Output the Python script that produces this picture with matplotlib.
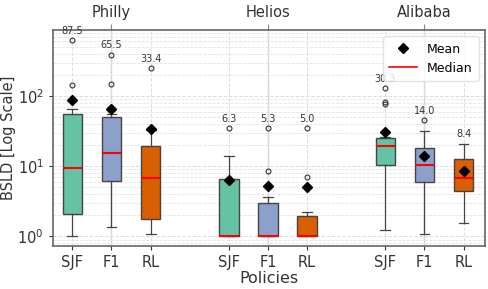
import numpy as np
import matplotlib.pyplot as plt
from matplotlib.lines import Line2D

# Policies per trace, and the trace names shown on the top axis
policies = ["SJF", "F1", "RL"]
traces = ["Philly", "Helios", "Alibaba"]

# box statistics, in order Philly(SJF,F1,RL), Helios(...), Alibaba(...)
q1 = [2.1, 6.1, 1.77, 1.0, 1.0, 1.0, 10.4, 6.0, 4.5]
medians = [9.4, 15.5, 6.7, 1.0, 1.0, 1.0, 19.7, 10.3, 6.75]
q3 = [56, 51, 19.4, 6.5, 3.0, 1.93, 25, 18, 12.7]
whis_lo = [1.0, 1.35, 1.07, 1.0, 1.0, 1.0, 1.23, 1.08, 1.54]
whis_hi = [65, 55, 33, 13.8, 3.6, 2.25, 26, 31.6, 21]
means = [87.5, 65.5, 33.4, 6.3, 5.3, 5.0, 30.3, 14.0, 8.4]
fliers = [[145, 630], [65, 150, 390], [250], [34.5], [8.5, 34.5],
          [6.9, 34.5], [76, 83, 131], [45.5], []]

colors = {"SJF": "#66c2a5", "F1": "#8da0cb", "RL": "#d95f02"}


def main():
    plt.rcParams["font.family"] = "DejaVu Sans"
    fig = plt.figure(figsize=(4.89, 2.89), dpi=100)
    ax = fig.add_axes([0.108, 0.149, 0.884, 0.747])

    # positions: groups of three with a gap between traces
    positions = []
    for g in range(len(traces)):
        for p in range(len(policies)):
            positions.append(g * 4 + p)

    stats = []
    for i in range(len(positions)):
        stats.append(dict(q1=q1[i], med=medians[i], q3=q3[i], whislo=whis_lo[i],
                          whishi=whis_hi[i], mean=means[i], fliers=fliers[i]))

    bp = ax.bxp(stats, positions=positions, widths=0.5, patch_artist=True,
                showmeans=True,
                meanprops=dict(marker="D", markerfacecolor="black",
                               markeredgecolor="black", markersize=5.5),
                medianprops=dict(color="red", linewidth=1.5),
                boxprops=dict(edgecolor="#444444", linewidth=1.0),
                whiskerprops=dict(color="#444444", linewidth=0.9),
                capprops=dict(color="#444444", linewidth=0.9),
                flierprops=dict(marker="o", markerfacecolor="none",
                                markeredgecolor="#333333", markersize=3.5,
                                markeredgewidth=0.8))
    for i, patch in enumerate(bp["boxes"]):
        patch.set_facecolor(colors[policies[i % 3]])
        patch.set_zorder(2)

    # mean values written above the highest point of each box
    for i, x in enumerate(positions):
        top = max([whis_hi[i]] + fliers[i])
        ax.text(x, top * 1.15, f"{means[i]:.1f}", ha="center", va="bottom",
                fontsize=7, color="#333333")

    ax.set_yscale("log")
    ax.set_ylim(0.73, 870)
    ax.set_xlim(-0.5, 10.55)

    ax.set_xticks(positions)
    ax.set_xticklabels([policies[i % 3] for i in range(len(positions))])
    ax.tick_params(axis="both", labelsize=10.5, colors="#333333", length=3)
    ax.tick_params(axis="y", which="minor", length=0)
    ax.set_ylabel("BSLD [Log Scale]", fontsize=10.5, color="#333333", labelpad=1)
    ax.set_xlabel("Policies", fontsize=11.5, color="#333333", labelpad=1)

    ax.grid(True, which="major", axis="both", linestyle="--", color="#dddddd", linewidth=0.7)
    ax.grid(True, which="minor", axis="y", linestyle="--", color="#e4e4e4", linewidth=0.6)
    ax.set_axisbelow(True)
    for s in ax.spines.values():
        s.set_color("#666666")
        s.set_linewidth(1.2)

    # trace names on top
    ax2 = ax.twiny()
    ax2.set_xlim(ax.get_xlim())
    ax2.set_xticks([1, 5, 9])
    ax2.set_xticklabels(traces, fontsize=10.5, color="#333333")
    ax2.tick_params(axis="x", colors="#888888", labelcolor="#333333", length=4)
    ax2.grid(True, color="#d0d0d0", linewidth=1.0)
    ax2.set_zorder(0)
    ax.set_zorder(1)
    ax.patch.set_visible(False)
    for s in ax2.spines.values():
        s.set_visible(False)

    handles = [Line2D([], [], marker="D", color="black", linestyle="none", markersize=5.5),
               Line2D([], [], color="red", linewidth=1.2)]
    leg = ax.legend(handles, ["Mean", "Median"], loc="upper right", fontsize=9,
                    framealpha=0.8, borderpad=0.5, handlelength=2.2)
    leg.get_frame().set_edgecolor("#dddddd")

    fig.savefig("out.png", dpi=100)


if __name__ == "__main__":
    main()
